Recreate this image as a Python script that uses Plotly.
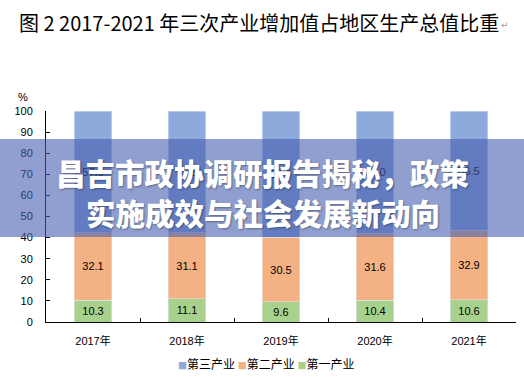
import plotly.graph_objects as go

years = ["2017年", "2018年", "2019年", "2020年", "2021年"]
series_names = ["第三产业", "第二产业", "第一产业"]
series_colors = ["#8EA9DB", "#F4B183", "#A9D18E"]
primary = [10.3, 11.1, 9.6, 10.4, 10.6]
secondary = [32.1, 31.1, 30.5, 31.6, 32.9]
tertiary = [57.6, 57.8, 59.9, 58.0, 56.5]
y_ticks = [0, 10, 20, 30, 40, 50, 60, 70, 80, 90, 100]

title_text = "图 2 2017-2021 年三次产业增加值占地区生产总值比重"
banner_line1 = "昌吉市政协调研报告揭秘，政策"
banner_line2 = "实施成效与社会发展新动向"

W, H = 524, 377
L, R, T, B = 46, 8, 111, 55
PW, PH = W - L - R, H - T - B


def px(x):
    return (x - L) / PW


def py(y):
    return (H - B - y) / PH


lab_font = dict(family="Liberation Sans, DejaVu Sans", size=11, color="#000000")

fig = go.Figure()
for name, color, vals in [(series_names[2], series_colors[2], primary),
                          (series_names[1], series_colors[1], secondary),
                          (series_names[0], series_colors[0], tertiary)]:
    fig.add_trace(go.Bar(name=name, x=years, y=vals, marker_color=color,
                         text=[f"{v:.1f}" for v in vals], textposition="inside",
                         insidetextanchor="middle", textfont=lab_font,
                         showlegend=False))

fig.update_layout(
    width=W, height=H,
    margin=dict(l=L, r=R, t=T, b=B, pad=0, autoexpand=False),
    barmode="stack", bargap=0.605,
    plot_bgcolor="white", paper_bgcolor="white",
    font=dict(family="Noto Sans CJK SC", size=12, color="#000000"),
    uniformtext=dict(minsize=11, mode="show"),
    showlegend=False,
    xaxis=dict(showline=True, linecolor="#000000", linewidth=1, ticks="inside",
               tickson="boundaries", ticklen=4, tickcolor="#000000",
               tickfont=dict(size=11, family="Liberation Sans, Noto Sans CJK SC"),
               ticklabelstandoff=9, showgrid=False, fixedrange=True, automargin=False),
    yaxis=dict(range=[0, 100], tickvals=y_ticks, showline=True, linecolor="#000000",
               linewidth=1, ticks="inside", ticklen=4, tickcolor="#000000",
               tickfont=dict(size=11, family="Liberation Sans"), ticklabelstandoff=10,
               showgrid=False, zeroline=False, fixedrange=True, automargin=False),
    shapes=[dict(type="rect", xref="paper", yref="paper",
                 x0=px(0), x1=px(W), y0=py(237), y1=py(139),
                 fillcolor="rgba(70,95,175,0.6)", line=dict(width=0), layer="above")],
)

legend_html = "&nbsp;".join(
    f'<span style="color:{c};font-size:9px">■</span>{n}'
    for n, c in zip(series_names, series_colors))
fig.add_annotation(text=legend_html, xref="paper", yref="paper", x=px(266), y=py(363),
                   showarrow=False, xanchor="center", yanchor="middle",
                   font=dict(family="Noto Sans CJK SC", size=12, color="#000000"))

fig.add_annotation(text=title_text, xref="paper", yref="paper", x=px(259), y=py(22),
                   showarrow=False, xanchor="center", yanchor="middle",
                   font=dict(family="Noto Sans CJK SC", size=20, color="#000000"))
fig.add_annotation(text="↵", xref="paper", yref="paper", x=px(499), y=py(25),
                   showarrow=False, xanchor="left", yanchor="middle",
                   font=dict(family="DejaVu Sans", size=9, color="#999999"))
fig.add_annotation(text="%", xref="paper", yref="paper", x=px(23), y=py(97),
                   showarrow=False, xanchor="center", yanchor="middle",
                   font=dict(family="Liberation Sans", size=11, color="#000000"))
shadow = "1px 1px 2px rgba(0,0,0,0.35)"
fig.add_annotation(text=banner_line1, xref="paper", yref="paper", x=px(262), y=py(172),
                   showarrow=False, xanchor="center", yanchor="middle",
                   font=dict(family="Noto Sans CJK SC", size=29.5, color="#ffffff",
                             weight=900, shadow=shadow))
fig.add_annotation(text=banner_line2, xref="paper", yref="paper", x=px(263), y=py(212),
                   showarrow=False, xanchor="center", yanchor="middle",
                   font=dict(family="Noto Sans CJK SC", size=29.5, color="#ffffff",
                             weight=900, shadow=shadow))

fig.write_html("out.html", config={"displayModeBar": False},
               post_script="document.body.style.margin='0';document.body.style.overflow='hidden';")
